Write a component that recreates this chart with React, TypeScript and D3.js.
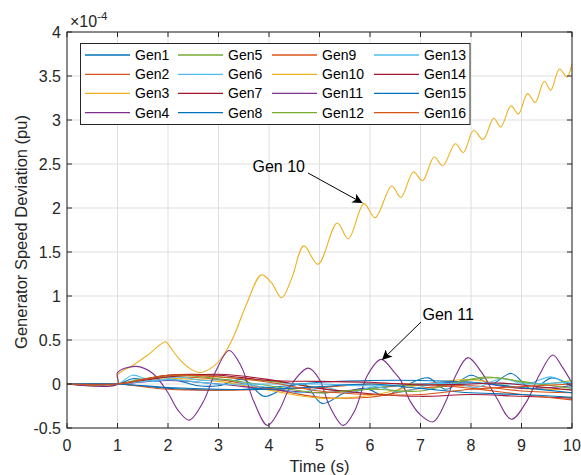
import React from "react";
import * as d3 from "d3";

const W = 581, H = 475;
const M = { left: 67, right: 572, top: 32, bottom: 428 };

const xTicks = [0, 1, 2, 3, 4, 5, 6, 7, 8, 9, 10];
const yTicks = [-0.5, 0, 0.5, 1, 1.5, 2, 2.5, 3, 3.5, 4];
const yTickLabels = ["-0.5", "0", "0.5", "1", "1.5", "2", "2.5", "3", "3.5", "4"];

const genNames = ["Gen1","Gen2","Gen3","Gen4","Gen5","Gen6","Gen7","Gen8","Gen9","Gen10","Gen11","Gen12","Gen13","Gen14","Gen15","Gen16"];
const genColors = ["#0072BD","#D95319","#EDB120","#7E2F8E","#77AC30","#4DBEEE","#A2142F","#0072BD","#D95319","#EDB120","#7E2F8E","#77AC30","#4DBEEE","#A2142F","#0072BD","#D95319"];

type P = [number, number];
const gen1: P[] = [[0,0],[1,0],[1.3,0.06],[1.7,0.03],[2.1,0.05],[2.6,-0.02],[3.0,-0.02],[3.5,0.05],[3.9,-0.14],[4.3,-0.05],[4.7,0.0],[5.05,-0.22],[5.5,-0.1],[5.9,-0.05],[6.3,-0.13],[6.7,-0.02],[7.15,0.07],[7.5,-0.06],[8.0,0.1],[8.4,0.0],[8.8,0.12],[9.2,-0.06],[9.6,0.07],[10,-0.03]];
const gen2: P[] = [[0,0],[1,0],[2,0.08],[3,0.05],[4,-0.05],[5,-0.15],[6,-0.15],[7,-0.05],[8,-0.02],[9,-0.08],[10,-0.1]];
const gen3: P[] = [[0,0],[1,0],[2,0.06],[3,0.03],[4,-0.07],[5,-0.16],[6,-0.13],[7,-0.01],[8,0.05],[9,-0.05],[10,-0.06]];
const gen4: P[] = [[0,0],[1,0],[2,0.04],[3,0.0],[4,-0.06],[5,-0.1],[6,-0.05],[7,0.0],[8,0.02],[9,-0.05],[10,-0.02]];
const gen5: P[] = [[0,0],[1,0],[1.5,0.06],[2.5,0.1],[3.5,0.06],[4.5,0.0],[5.5,-0.08],[6.5,-0.02],[7.5,0.0],[8.3,0.08],[9,0.03],[10,-0.05]];
const gen6: P[] = [[0,0],[1,0],[1.3,0.1],[1.7,0.03],[2.2,0.08],[2.7,0.04],[3.2,0.05],[3.7,-0.02],[4.2,-0.05],[4.6,-0.1],[5.1,-0.04],[5.6,-0.1],[6.1,-0.03],[6.6,-0.09],[7.1,-0.02],[7.6,0.03],[8.1,-0.04],[8.6,0.06],[9.1,0.0],[9.6,0.08],[10,-0.06]];
const gen7: P[] = [[0,0],[1,0],[2,0.08],[3,0.11],[4,0.05],[5,-0.05],[6,-0.11],[7,-0.14],[8,-0.12],[9,-0.14],[10,-0.16]];
const gen8: P[] = [[0,0],[1,0],[2,-0.05],[3,-0.07],[4,-0.04],[5,0.02],[6,0.04],[7,0.04],[8,0.02],[9,-0.04],[10,-0.1]];
const gen9: P[] = [[0,0],[1,0],[2,-0.06],[3,-0.07],[4,-0.06],[5,-0.04],[6,0.0],[7,0.0],[8,-0.05],[9,-0.12],[10,-0.18]];
const gen10: P[] = [[0,0],[1,0],[1,0.1],[1.3,0.21],[1.6,0.33],[1.95,0.48],[2.02,0.44],[2.2,0.3],[2.4,0.19],[2.63,0.13],[2.9,0.2],[3.1,0.33],[3.3,0.54],[3.55,0.9],[3.85,1.24],[4.05,1.15],[4.25,0.98],[4.45,1.2],[4.69,1.57],[4.97,1.36],[5.35,1.83],[5.57,1.65],[5.88,2.05],[6.1,1.89],[6.43,2.25],[6.61,2.12],[6.86,2.41],[7.04,2.31],[7.27,2.58],[7.44,2.48],[7.69,2.73],[7.85,2.63],[8.05,2.88],[8.24,2.78],[8.45,3.02],[8.59,2.92],[8.79,3.16],[8.94,3.07],[9.12,3.3],[9.27,3.2],[9.45,3.44],[9.58,3.34],[9.75,3.58],[9.9,3.49],[10,3.64]];
const gen11: P[] = [[0,0],[1,0],[1,0.13],[1.37,0.2],[1.7,0.12],[2.0,-0.1],[2.2,-0.3],[2.42,-0.41],[2.7,-0.2],[2.95,0.15],[3.21,0.38],[3.45,0.2],[3.7,-0.2],[3.97,-0.47],[4.2,-0.3],[4.45,0.0],[4.78,0.18],[5.0,0.05],[5.2,-0.25],[5.47,-0.47],[5.7,-0.3],[5.95,0.1],[6.22,0.28],[6.5,0.12],[6.6,0.05],[6.8,-0.2],[7.0,-0.35],[7.25,-0.43],[7.5,-0.2],[7.7,0.1],[7.94,0.3],[8.2,0.14],[8.5,-0.15],[8.8,-0.4],[9.1,-0.2],[9.35,0.1],[9.62,0.33],[9.8,0.2],[10,0.01]];
const gen12: P[] = [[0,0],[1,0],[2,0.1],[3,0.06],[4,-0.02],[5,-0.1],[6,-0.06],[7,-0.08],[7.8,0.03],[8.5,0.07],[9.3,0.0],[10,0.04]];
const gen13: P[] = [[0,0],[1,0],[2,0.05],[3,0.0],[4,0.0],[5,0.0],[6,-0.02],[7,0.0],[8,0.01],[9,0.0],[10,0.02]];
const gen14: P[] = [[0,0],[1,0],[2,0.1],[3,0.1],[4,0.04],[5,0.03],[6,0.02],[7,-0.01],[8,0.0],[8.6,0.01],[9.3,-0.03],[10,-0.07]];
const gen15: P[] = [[0,0],[1,0],[2,-0.04],[3,-0.06],[4,-0.06],[5,-0.03],[6,0.0],[7,-0.05],[8,-0.1],[9,-0.12],[10,-0.15]];
const gen16: P[] = [[0,0],[1,0],[2,0.1],[3,0.08],[4,0.02],[5,-0.08],[6,-0.12],[7,-0.12],[8,-0.06],[9,-0.03],[10,0.0]];
const genData: P[][] = [gen1,gen2,gen3,gen4,gen5,gen6,gen7,gen8,gen9,gen10,gen11,gen12,gen13,gen14,gen15,gen16];

const axisColor = "#262626";
const font = "'Liberation Sans', Arial, sans-serif";

export default function App() {
  const x = d3.scaleLinear().domain([0, 10]).range([M.left, M.right]);
  const y = d3.scaleLinear().domain([-0.5, 4]).range([M.bottom, M.top]);
  const line = d3.line<P>().x(d => x(d[0])).y(d => y(d[1])).curve(d3.curveCatmullRom.alpha(0.5));

  const legX = [85, 178, 272, 374];
  const legY = [55, 74.3, 93.3, 112.7];

  return (
    <svg width={W} height={H} style={{ position: "absolute", left: 0, top: 0, background: "#fff" }}>
      <defs>
        <clipPath id="plot">
          <rect x={M.left} y={M.top} width={M.right - M.left} height={M.bottom - M.top} />
        </clipPath>
        <marker id="arr" viewBox="0 0 10 10" refX="10" refY="5" markerWidth="13" markerHeight="10" markerUnits="userSpaceOnUse" orient="auto">
          <path d="M0,0 L10,5 L0,10 L2.5,5 Z" fill="#000" />
        </marker>
      </defs>
      <rect x={M.left} y={M.top} width={M.right - M.left} height={M.bottom - M.top} fill="#fff" />
      {xTicks.map(t => (
        <line key={"gx" + t} x1={x(t)} x2={x(t)} y1={M.top} y2={M.bottom} stroke="#dfdfdf" strokeWidth={1} />
      ))}
      {yTicks.map(t => (
        <line key={"gy" + t} x1={M.left} x2={M.right} y1={y(t)} y2={y(t)} stroke="#dfdfdf" strokeWidth={1} />
      ))}
      <g clipPath="url(#plot)">
        {genData.map((d, i) => (
          <path key={i} d={line(d) || ""} fill="none" stroke={genColors[i]} strokeWidth={1.1} />
        ))}
      </g>
      <rect x={M.left} y={M.top} width={M.right - M.left} height={M.bottom - M.top} fill="none" stroke={axisColor} strokeWidth={1} />
      {xTicks.map(t => (
        <g key={"xt" + t}>
          <line x1={x(t)} x2={x(t)} y1={M.bottom} y2={M.bottom - 5} stroke={axisColor} />
          <line x1={x(t)} x2={x(t)} y1={M.top} y2={M.top + 5} stroke={axisColor} />
          <text x={x(t)} y={451} textAnchor="middle" fontFamily={font} fontSize={16} fill={axisColor}>{t}</text>
        </g>
      ))}
      {yTicks.map((t, i) => (
        <g key={"yt" + t}>
          <line x1={M.left} x2={M.left + 5} y1={y(t)} y2={y(t)} stroke={axisColor} />
          <line x1={M.right} x2={M.right - 5} y1={y(t)} y2={y(t)} stroke={axisColor} />
          <text x={61} y={y(t) + 5.5} textAnchor="end" fontFamily={font} fontSize={16} fill={axisColor}>{yTickLabels[i]}</text>
        </g>
      ))}
      <text x={70} y={27} fontFamily={font} fontSize={16} fill={axisColor}>
        ×10<tspan dy={-7} fontSize={11.5}>-4</tspan>
      </text>
      <text x={319.5} y={472} textAnchor="middle" fontFamily={font} fontSize={16.5} fill={axisColor}>Time (s)</text>
      <text transform={`translate(27,232) rotate(-90)`} textAnchor="middle" fontFamily={font} fontSize={16.5} fill={axisColor}>Generator Speed Deviation (pu)</text>

      <rect x={80.5} y={43.5} width={389.5} height={81} fill="#fff" stroke={axisColor} strokeWidth={1} />
      {genNames.map((n, i) => {
        const col = Math.floor(i / 4), row = i % 4;
        const lx = legX[col], ly = legY[row];
        return (
          <g key={n}>
            <line x1={lx} x2={lx + 45} y1={ly} y2={ly} stroke={genColors[i]} strokeWidth={1.3} />
            <text x={lx + 50} y={ly + 5} fontFamily={font} fontSize={14} fill="#000">{n}</text>
          </g>
        );
      })}

      <text x={252.5} y={172} fontFamily={font} fontSize={16} fill="#000">Gen 10</text>
      <line x1={308} x2={362.5} y1={173} y2={203} stroke="#000" strokeWidth={1} markerEnd="url(#arr)" />
      <text x={422.5} y={320} fontFamily={font} fontSize={16} fill="#000">Gen 11</text>
      <line x1={421} x2={382} y1={322} y2={360} stroke="#000" strokeWidth={1} markerEnd="url(#arr)" />
    </svg>
  );
}
